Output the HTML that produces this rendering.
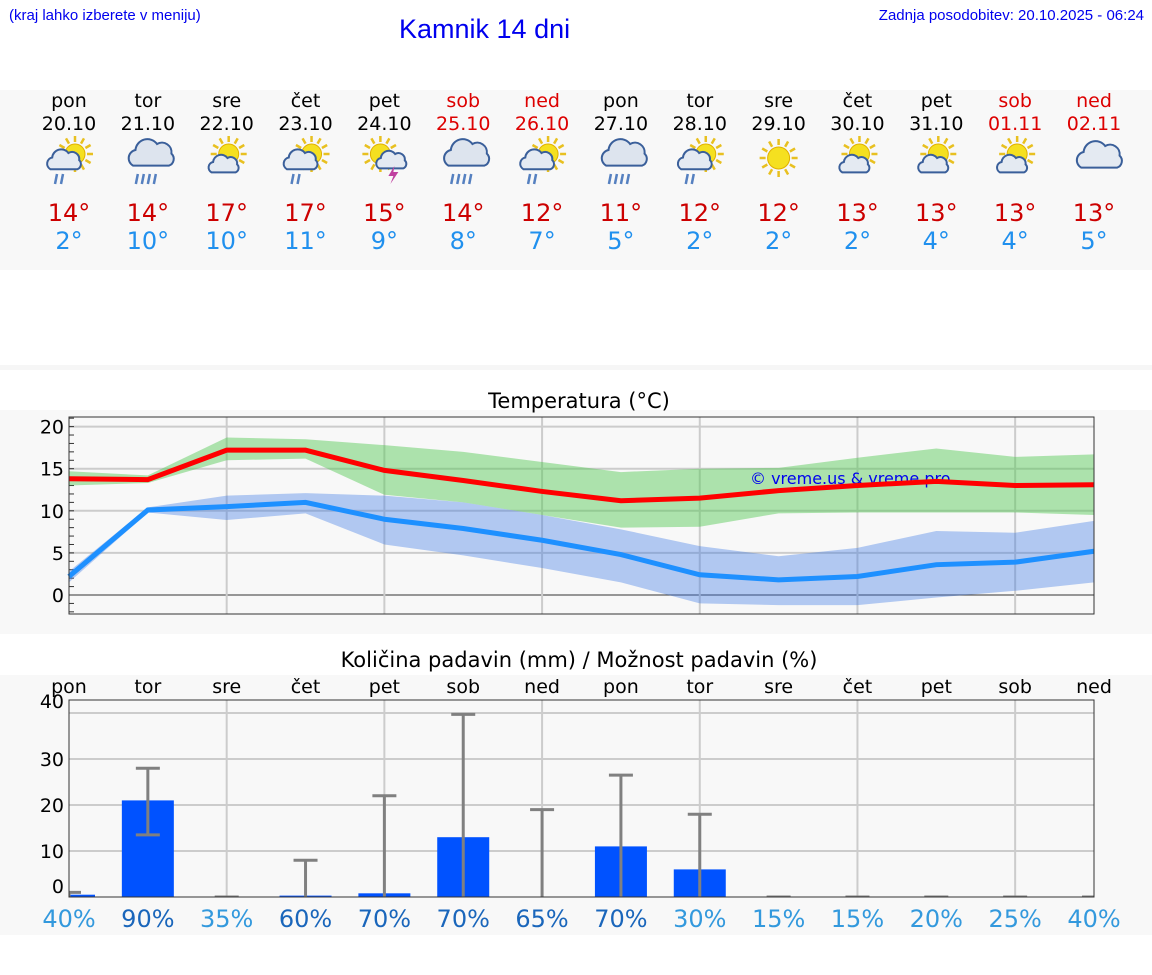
<!DOCTYPE html>
<html><head><meta charset="utf-8"><style>
body{margin:0;width:1152px;height:975px;background:#fff;position:relative;overflow:hidden;font-family:"DejaVu Sans","Liberation Sans",sans-serif}
.abs{position:absolute}
</style></head><body>
<div class="abs" style="left:9px;top:7px;font:15px 'Liberation Sans',sans-serif;color:#0000ee">(kraj lahko izberete v meniju)</div>
<div class="abs" style="left:399px;top:14px;font:27px 'Liberation Sans',sans-serif;color:#0000ee">Kamnik 14 dni</div>
<div class="abs" style="right:8px;top:7px;font:15px 'Liberation Sans',sans-serif;color:#0000ee">Zadnja posodobitev: 20.10.2025 - 06:24</div>
<div class="abs" style="left:0;top:90px;width:1152px;height:180px;background:#f8f8f8"></div>
<div class="abs" style="left:0;top:365px;width:1152px;height:5px;background:#f6f6f6"></div>
<svg class="abs" style="left:0;top:0" width="1152" height="975" id="chart"></svg>
<script>
const dayNames=["pon","tor","sre","čet","pet","sob","ned","pon","tor","sre","čet","pet","sob","ned"];
const dates=["20.10","21.10","22.10","23.10","24.10","25.10","26.10","27.10","28.10","29.10","30.10","31.10","01.11","02.11"];
const icons=["sunrain","rain","suncloud","sunrain","storm","rain","sunrain","rain","sunrain","sun","suncloud","suncloud","suncloud","cloud"];
const maxT=[14,14,17,17,15,14,12,11,12,12,13,13,13,13];
const minT=[2,10,10,11,9,8,7,5,2,2,2,4,4,5];
const tMax=[13.8,13.7,17.2,17.2,14.8,13.6,12.3,11.2,11.5,12.4,13.0,13.5,13.0,13.1];
const tMin=[2.2,10.1,10.5,11.0,9.0,7.9,6.5,4.8,2.4,1.8,2.2,3.6,3.9,5.2];
const maxHi=[14.7,14.2,18.7,18.5,17.8,17.0,15.8,14.6,15.0,15.1,16.3,17.4,16.4,16.7];
const maxLo=[13.0,13.3,16.0,16.2,11.9,11.0,9.5,8.0,8.1,9.7,9.8,9.8,9.8,9.5];
const minHi=[2.8,10.4,11.8,12.1,11.8,11.0,9.5,7.8,5.8,4.6,5.6,7.6,7.4,8.8];
const minLo=[1.5,9.8,8.9,9.7,6.0,4.7,3.2,1.5,-1.0,-1.2,-1.2,-0.3,0.5,1.5];
const tTicks=[0,5,10,15,20];
const rain=[0.5,21,0,0.3,0.8,13,0,11,6,0,0,0,0,0];
const rainHi=[1,28,0,8,22,39.7,19,26.5,18,0,0,0,0,0];
const rainLo=[0,13.5,0,0,0,0,0,0,0,0,0,0,0,0];
const rainTicks=[0,10,20,30,40];
const chance=[40,90,35,60,70,70,65,70,30,15,15,20,25,40];

const X=i=>69+i*(1025/13);
const TY=v=>595-v*8.42;
const RY=v=>897-v*4.6;
const svg=document.getElementById('chart');
const NS='http://www.w3.org/2000/svg';
function mk(t,a,p){const e=document.createElementNS(NS,t);for(const k in a)e.setAttribute(k,a[k]);(p||svg).appendChild(e);return e;}
function txt(s,a){const e=mk('text',a);e.textContent=s;return e;}
const weekend=i=>dayNames[i]==="sob"||dayNames[i]==="ned";

function icon(type,cx){
 const g=mk('g',{transform:`translate(${cx},160)`});
 const sun=(dx,dy,r)=>{for(let k=0;k<12;k++){const a=k*Math.PI/6;mk('line',{x1:dx+Math.cos(a)*(r+2),y1:dy+Math.sin(a)*(r+2),x2:dx+Math.cos(a)*(r+8),y2:dy+Math.sin(a)*(r+8),stroke:'#e8c020','stroke-width':2.5},g);}mk('circle',{cx:dx,cy:dy,r:r,fill:'#f5e020',stroke:'#e0b000'},g);};
 const cloud=(dx,dy,s,c)=>{const p=`M${dx-14*s},${dy+8*s} a${7*s},${7*s} 0 0 1 ${2*s},${-13*s} a${10*s},${10*s} 0 0 1 ${18*s},${-5*s} a${8*s},${8*s} 0 0 1 ${12*s},${8*s} a${6*s},${6*s} 0 0 1 ${-2*s},${10*s} z`;mk('path',{d:p,fill:c||'#e4eaf2',stroke:'#3a5f9a','stroke-width':2},g);};
 const drops=(n,dx)=>{for(let k=0;k<n;k++)mk('line',{x1:dx+k*6,y1:14,x2:dx+k*6-2,y2:24,stroke:'#5580c0','stroke-width':2.5},g);};
 if(type==="sun")sun(0,-2,11);
 if(type==="suncloud"){sun(2,-6,10);cloud(-4,6,0.8);}
 if(type==="sunrain"){sun(6,-6,10);cloud(-6,2,0.9);drops(2,-12);}
 if(type==="rain"){cloud(2,-4,1.2,'#dde4ee');drops(4,-10);}
 if(type==="storm"){sun(-4,-6,10);cloud(6,2,0.8);mk('path',{d:'M10,6 l-6,10 h5 l-3,8 l8,-12 h-5 z',fill:'#c040a0'},g);}
 if(type==="cloud"){cloud(4,-2,1.2,'#e4eaf2');}
 
 
}
for(let i=0;i<14;i++){
 const x=X(i),c=weekend(i)?'#dd0000':'#000';
 let t=txt(dayNames[i],{x:x,y:107,'text-anchor':'middle','font-size':19,fill:c});
 
 t=txt(dates[i],{x:x,y:130,'text-anchor':'middle','font-size':19,fill:c});
 
 icon(icons[i],x);
 t=txt(maxT[i]+"°",{x:x,y:221,'text-anchor':'middle','font-size':24,fill:'#cc0000'});
 
 t=txt(minT[i]+"°",{x:x,y:249,'text-anchor':'middle','font-size':24,fill:'#2090ee'});
 
}

mk('rect',{x:0,y:410,width:1152,height:224,fill:'#f8f8f8'});
let t=txt("Temperatura (°C)",{x:579,y:408,'text-anchor':'middle','font-size':21,fill:'#000'});

for(const v of tTicks){mk('line',{x1:69,x2:1094,y1:TY(v),y2:TY(v),stroke:v===0?'#333':'#ccc','stroke-width':v===0?1:2});
 const l=txt(v,{x:64,y:TY(v)+7,'text-anchor':'end','font-size':19,fill:'#000'});}
for(let v=-2;v<=21;v++)mk('line',{x1:69,x2:74,y1:TY(v),y2:TY(v),stroke:'#333','stroke-width':1});
for(let i=2;i<14;i+=2)mk('line',{x1:X(i),x2:X(i),y1:417,y2:614,stroke:'#ccc','stroke-width':2});
function band(hi,lo,fill,name){let d='';hi.forEach((v,i)=>d+=(i?'L':'M')+X(i)+','+TY(v));for(let i=lo.length-1;i>=0;i--)d+='L'+X(i)+','+TY(lo[i]);const p=mk('path',{d:d+'Z',fill:fill});}
function line(a,col,name){const p=mk('polyline',{points:a.map((v,i)=>X(i)+','+TY(v)).join(' '),fill:'none',stroke:col,'stroke-width':5});}
band(maxHi,maxLo,'rgba(80,200,80,0.45)','max-temp-range');
band(minHi,minLo,'rgba(60,120,230,0.38)','min-temp-range');
t=txt("© vreme.us & vreme.pro",{x:750,y:484,'font-size':16,fill:'#0000ee'});

line(tMax,'#ff0000','max-temp-line');
line(tMin,'#1e90ff','min-temp-line');
mk('rect',{x:69,y:417,width:1025,height:197,fill:'none',stroke:'#333','stroke-width':1});

mk('rect',{x:0,y:675,width:1152,height:260,fill:'#f8f8f8'});
t=txt("Količina padavin (mm) / Možnost padavin (%)",{x:579,y:667,'text-anchor':'middle','font-size':21,fill:'#000'});

for(let i=0;i<14;i++){const l=txt(dayNames[i],{x:X(i),y:693,'text-anchor':'middle','font-size':19,fill:'#000'});}
for(const v of [10,20,30,40])mk('line',{x1:69,x2:1094,y1:RY(v),y2:RY(v),stroke:'#ccc','stroke-width':2});
for(let i=2;i<14;i+=2)mk('line',{x1:X(i),x2:X(i),y1:700,y2:897,stroke:'#ccc','stroke-width':2});
rainTicks.forEach(v=>{const y=v===0?893:v===40?708:RY(v)+7;const l=txt(v,{x:64,y:y,'text-anchor':'end','font-size':19,fill:'#000'});});
const clip=mk('clipPath',{id:'pc'});mk('rect',{x:69,y:700,width:1025,height:197},clip);
const g=mk('g',{'clip-path':'url(#pc)'});
for(let i=0;i<14;i++){
 const b=mk('rect',{x:X(i)-26,y:RY(rain[i]),width:52,height:897-RY(rain[i]),fill:'#0052ff'},g);
 
 const e=mk('g',{stroke:'#808080','stroke-width':3},g);
 
 mk('line',{x1:X(i),x2:X(i),y1:RY(rainHi[i]),y2:RY(rainLo[i])},e);
 mk('line',{x1:X(i)-12,x2:X(i)+12,y1:RY(rainHi[i]),y2:RY(rainHi[i])},e);
 if(rainLo[i]>0)mk('line',{x1:X(i)-12,x2:X(i)+12,y1:RY(rainLo[i]),y2:RY(rainLo[i])},e);
}
mk('rect',{x:69,y:700,width:1025,height:197,fill:'none',stroke:'#333','stroke-width':1});
for(let i=0;i<14;i++){const c=chance[i]>=60?'#1a66bb':'#3399dd';const l=txt(chance[i]+"%",{x:X(i),y:927,'text-anchor':'middle','font-size':24,fill:c});}
</script>
</body></html>
